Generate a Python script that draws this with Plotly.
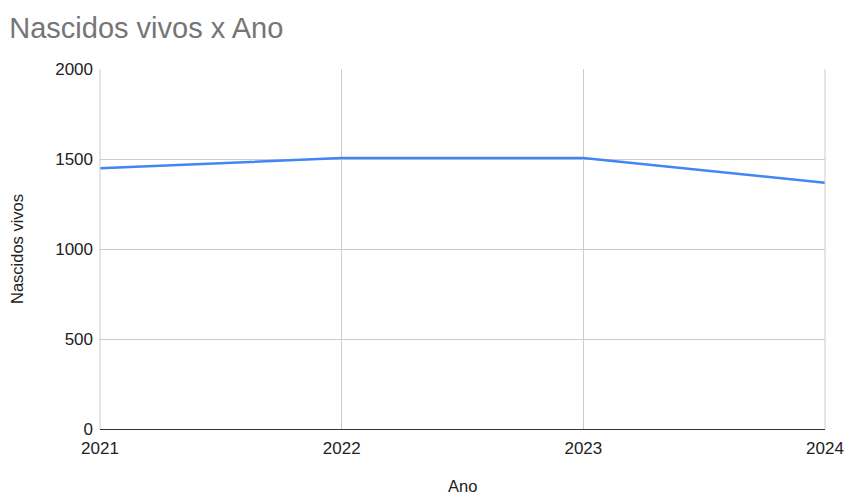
import plotly.graph_objects as go

anos = ["2021", "2022", "2023", "2024"]
nascidos = [1448, 1505, 1505, 1368]
y_ticks = [0, 500, 1000, 1500, 2000]

fig = go.Figure()
fig.add_trace(go.Scatter(x=[int(a) for a in anos], y=nascidos, mode="lines",
                         line=dict(color="#4285F4", width=2.5), showlegend=False))

fig.update_layout(
    width=845, height=495,
    margin=dict(l=100, r=20, t=69, b=66, autoexpand=False),
    paper_bgcolor="white", plot_bgcolor="white",
    font=dict(family="Arial, Liberation Sans, sans-serif", size=17, color="#222222"),
    title=dict(text="Nascidos vivos x Ano", x=0.011, xanchor="left", y=1 - 28 / 495, yanchor="middle",
               font=dict(size=29, color="#757575")),
)
fig.update_xaxes(
    range=[2021, 2024], tickvals=[int(a) for a in anos], ticktext=anos,
    showgrid=True, gridcolor="#cccccc", gridwidth=1,
    showline=True, linecolor="#333333", linewidth=1, mirror=False,
    zeroline=False, ticks="", ticklabelstandoff=4, automargin=False,
)
fig.update_yaxes(
    range=[0, 2000], tickvals=y_ticks, ticktext=[str(v) for v in y_ticks],
    showgrid=True, gridcolor="#cccccc", gridwidth=1,
    zeroline=False, ticks="", showline=False, ticklabelstandoff=6, automargin=False,
)
fig.add_shape(type="line", xref="paper", yref="paper", x0=1, x1=1, y0=0, y1=1,
              line=dict(color="#cccccc", width=1))
fig.add_shape(type="line", xref="paper", yref="paper", x0=0, x1=0, y0=0, y1=1,
              line=dict(color="#cccccc", width=1))
fig.add_annotation(text="Ano", xref="paper", yref="paper", x=0.5, y=-57 / 360,
                   xanchor="center", yanchor="middle", showarrow=False,
                   font=dict(size=16.5, color="#222222"))
fig.add_annotation(text="Nascidos vivos", xref="paper", yref="paper", x=-83 / 725, y=0.5,
                   xanchor="center", yanchor="middle", showarrow=False, textangle=-90,
                   font=dict(size=16.5, color="#222222"))

fig.write_html("out.html")
